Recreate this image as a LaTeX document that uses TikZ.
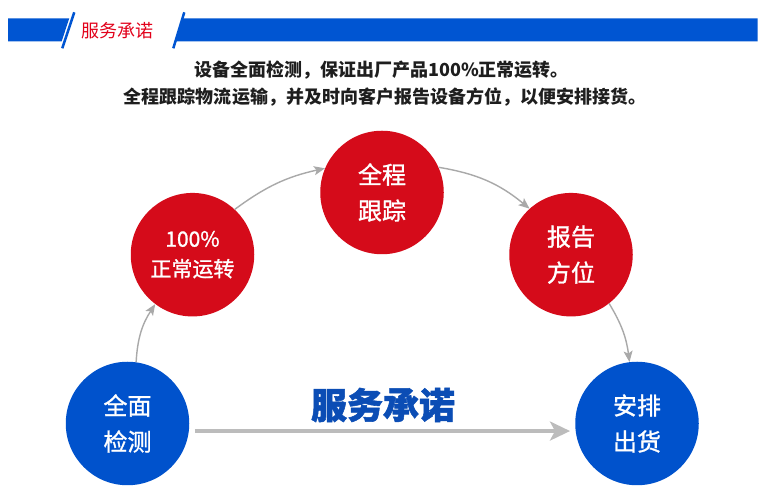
\documentclass[tikz,border=0pt]{standalone}
\usepackage{fontspec}
\newfontfamily\cjk{Noto Sans CJK SC}
\usetikzlibrary{arrows.meta}
\definecolor{cred}{HTML}{D50B1A}
\definecolor{cblue}{HTML}{0052CC}
\definecolor{hblue}{HTML}{0055D2}
\definecolor{hred}{HTML}{E2001A}
\definecolor{agrey}{HTML}{A9A9A9}
\definecolor{bgrey}{HTML}{BCBCBC}
\definecolor{ttext}{HTML}{1E1E1E}
\definecolor{tblue}{HTML}{0B4DB5}
\begin{document}
\begin{tikzpicture}[x=1bp,y=1bp,
 stepball/.style={circle, minimum size=123.5bp, inner sep=0pt, text=white, align=center},
 redball/.style={stepball, fill=cred},
 blueball/.style={stepball, fill=cblue},
 bigtxt/.style={font=\cjk\addfontfeature{FakeBold=1.2}\fontsize{24bp}{36bp}\selectfont},
 smalltxt/.style={font=\cjk\addfontfeature{FakeBold=1.2}\fontsize{21bp}{30bp}\selectfont},
 flow/.style={draw=agrey, line width=1.4bp, -{Stealth[length=11bp,width=9bp,inset=2.5bp]}},
 bigflow/.style={draw=bgrey, line width=3.5bp, -{Stealth[length=20bp,width=19bp,inset=5bp]}},
 slashline/.style={draw=hblue, line width=2.5bp},
 headtxt/.style={font=\cjk\fontsize{18bp}{22bp}\selectfont, text=hred},
 introtxt/.style={font=\cjk\bfseries\fontsize{18bp}{22bp}\selectfont, text=ttext},
 titletxt/.style={font=\cjk\bfseries\addfontfeature{FakeBold=1.5}\fontsize{36bp}{40bp}\selectfont, text=tblue},
]
\useasboundingbox[fill=white] (0,0) rectangle (769,497);
% header bar
\fill[hblue] (8,455.5) -- (8,478.7) -- (69.3,478.7) -- (61.6,455.5) -- cycle;
\fill[hblue] (175.4,455.5) -- (182.5,478.7) -- (757.7,478.7) -- (757.7,455.5) -- cycle;
\draw[slashline] (62.3,448.7) -- (74.3,484.7);
\draw[slashline] (173.3,448.7) -- (184.3,484.7);
\node[headtxt] (head) at (117.5,466.5) {服务承诺};
% intro text
\node[introtxt] (line1) at (381.5,427) {设备全面检测，保证出厂产品100\%正常运转。};
\node[introtxt] (line2) at (385,400) {全程跟踪物流运输，并及时向客户报告设备方位，以便安排接货。};
% circles
\node[blueball, bigtxt] (inspect) at (127.5,73.5) {全面\\检测};
\node[redball, smalltxt] (run) at (192.5,242.3) {100\%\\正常运转};
\node[redball, bigtxt] (track) at (382,304.5) {全程\\跟踪};
\node[redball, bigtxt] (report) at (571,242.3) {报告\\方位};
\node[blueball, bigtxt] (ship) at (637,73.5) {安排\\出货};
% title
\node[titletxt] (title) at (383,92) {服务承诺};
% connectors
\draw[flow] (inspect.82) to[bend left=15] (run.233);
\draw[flow] (run.47) to[bend left=12] (track.157);
\draw[flow] (track.24) to[bend left=15] (report.132);
\draw[flow] (report.308) to[bend left=12] (ship.97);
\draw[bigflow, shorten <=6bp, shorten >=5.5bp] (inspect.-7) -- (ship.187);
\end{tikzpicture}
\end{document}
